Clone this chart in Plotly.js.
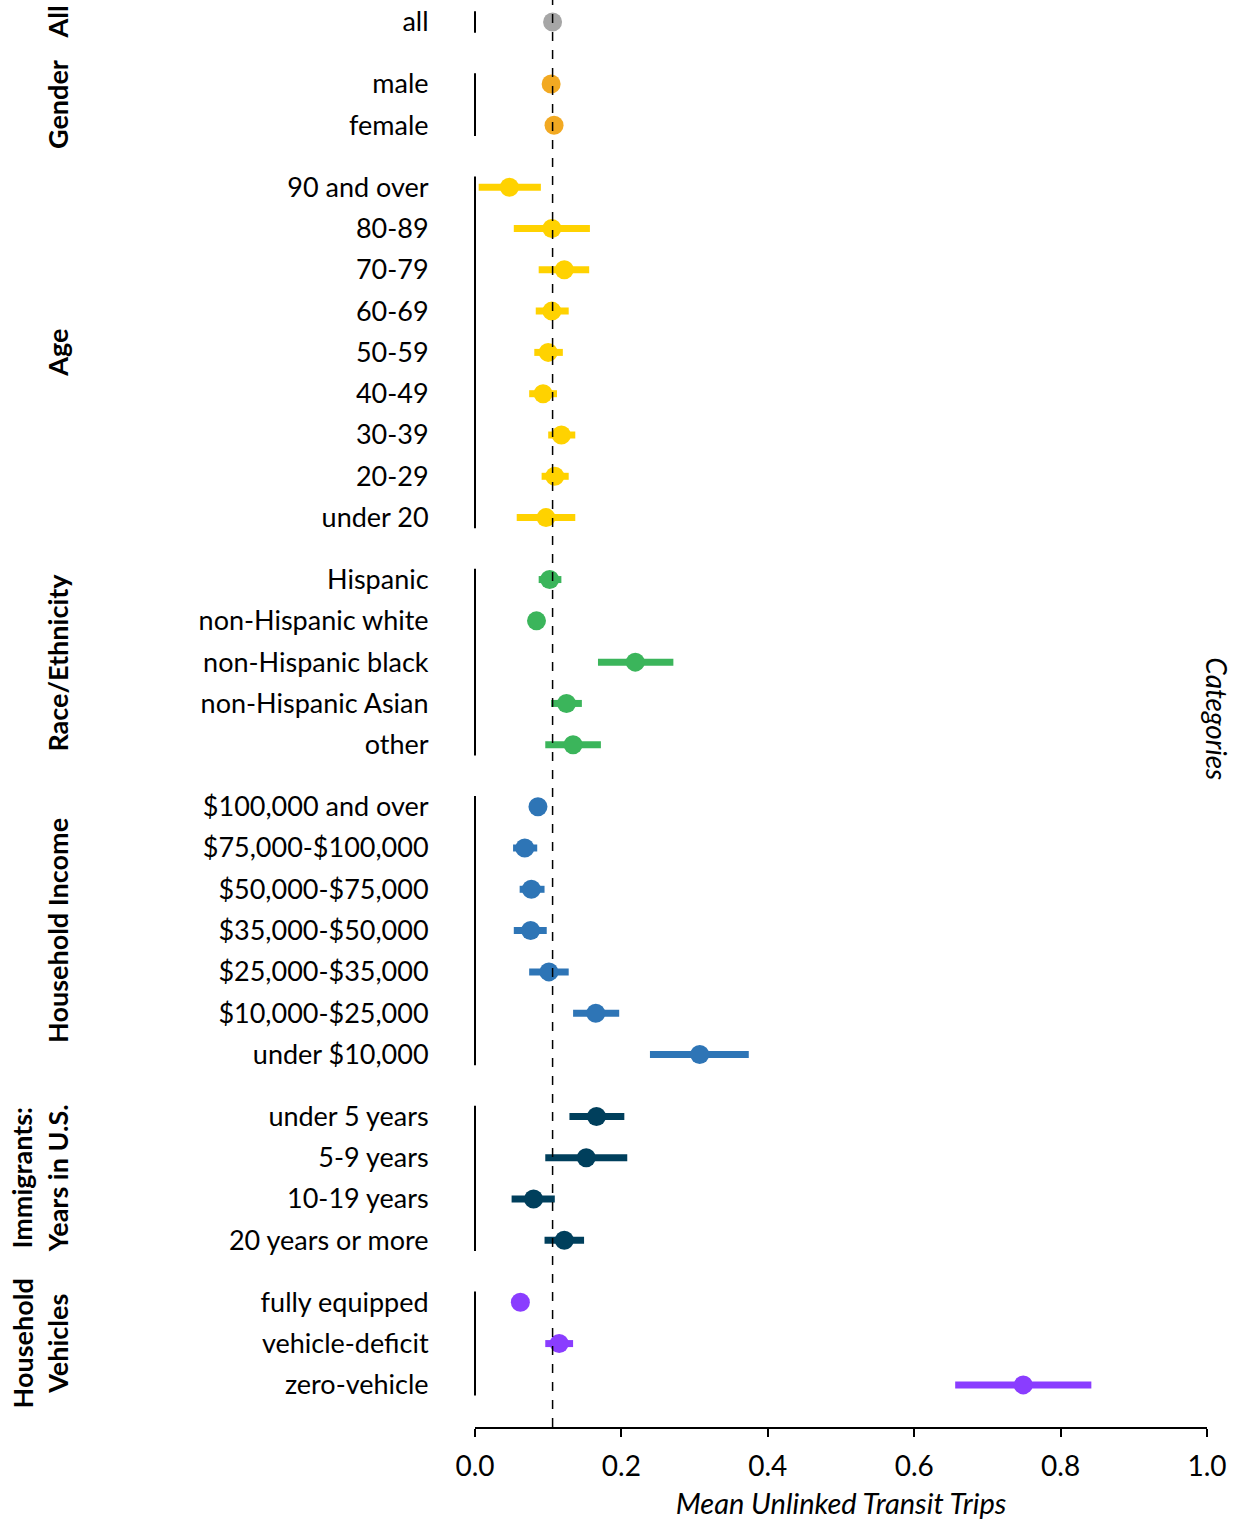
<!DOCTYPE html>
<html>
<head>
<meta charset="utf-8">
<script src="https://cdn.plot.ly/plotly-3.0.1.min.js"></script>
<style>
  html, body { margin: 0; padding: 0; background: #ffffff; }
  #chart { width: 1240px; height: 1520px; }
</style>
</head>
<body>
<div id="chart"></div>
<script>
// ---- Data ----
const groupNames = ["All", "Gender", "Age", "Race/Ethnicity", "Household Income", "Immigrants:<br>Years in U.S.", "Household<br>Vehicles"];
const groupColors = ["#a6a6a6", "#f2a922", "#ffd200", "#3bb55b", "#2e75b6", "#003f5c", "#8a3dff"];

const categories = [
  "all",
  "male", "female",
  "90 and over", "80-89", "70-79", "60-69", "50-59", "40-49", "30-39", "20-29", "under 20",
  "Hispanic", "non-Hispanic white", "non-Hispanic black", "non-Hispanic Asian", "other",
  "$100,000 and over", "$75,000-$100,000", "$50,000-$75,000", "$35,000-$50,000", "$25,000-$35,000", "$10,000-$25,000", "under $10,000",
  "under 5 years", "5-9 years", "10-19 years", "20 years or more",
  "fully equipped", "vehicle-deficit", "zero-vehicle"
];
const groupOf = [
  0,
  1, 1,
  2, 2, 2, 2, 2, 2, 2, 2, 2,
  3, 3, 3, 3, 3,
  4, 4, 4, 4, 4, 4, 4,
  5, 5, 5, 5,
  6, 6, 6
];
const means = [
  0.106,
  0.104, 0.108,
  0.047, 0.105, 0.122, 0.105, 0.100, 0.093, 0.118, 0.109, 0.097,
  0.102, 0.084, 0.219, 0.125, 0.134,
  0.086, 0.068, 0.077, 0.076, 0.101, 0.165, 0.307,
  0.166, 0.152, 0.080, 0.122,
  0.062, 0.115, 0.749
];
const lowers = [
  0.103,
  0.101, 0.105,
  0.005, 0.053, 0.087, 0.083, 0.081, 0.074, 0.100, 0.091, 0.057,
  0.087, 0.080, 0.168, 0.104, 0.096,
  0.082, 0.052, 0.061, 0.053, 0.074, 0.134, 0.239,
  0.129, 0.096, 0.050, 0.095,
  0.058, 0.096, 0.656
];
const uppers = [
  0.109,
  0.107, 0.111,
  0.090, 0.157, 0.156, 0.128, 0.120, 0.112, 0.137, 0.128, 0.137,
  0.118, 0.089, 0.271, 0.146, 0.172,
  0.090, 0.085, 0.095, 0.098, 0.128, 0.197, 0.374,
  0.204, 0.208, 0.109, 0.149,
  0.066, 0.134, 0.842
];
const xTicks = [0, 0.2, 0.4, 0.6, 0.8, 1.0];
const xTickText = ["0.0", "0.2", "0.4", "0.6", "0.8", "1.0"];

// ---- Row positions: 1 per row, extra 0.5 between groups ----
const yPos = [];
let cur = 0;
for (let i = 0; i < categories.length; i++) {
  if (i > 0) cur += (groupOf[i] !== groupOf[i - 1]) ? 1.5 : 1;
  yPos.push(cur);
}

const FONT = "Lato, 'Open Sans', sans-serif";
const FS = 27;

const traces = [];
const shapes = [];
const annotations = [];
groupNames.forEach((g, gi) => {
  const idx = [];
  groupOf.forEach((v, i) => { if (v === gi) idx.push(i); });
  const ys = idx.map(i => yPos[i]);
  traces.push({
    type: "scatter",
    mode: "markers",
    x: idx.map(i => means[i]),
    y: ys,
    marker: { color: groupColors[gi], size: 19, line: { width: 0 } },
    error_x: {
      type: "data", symmetric: false,
      array: idx.map(i => uppers[i] - means[i]),
      arrayminus: idx.map(i => means[i] - lowers[i]),
      color: groupColors[gi], thickness: 7, width: 0
    },
    hoverinfo: "skip",
    showlegend: false,
    cliponaxis: false
  });
  const y0 = Math.min(...ys), y1 = Math.max(...ys);
  shapes.push({
    type: "line", xref: "paper", yref: "y",
    x0: 0, x1: 0, y0: y0 - 0.26, y1: y1 + 0.26,
    line: { color: "#000000", width: 2 }
  });
  annotations.push({
    xref: "paper", yref: "y",
    x: (g.indexOf("<br>") >= 0) ? -0.5945 : -0.5705,
    y: (y0 + y1) / 2,
    xanchor: "center", yanchor: "middle",
    text: "<b>" + g + "</b>",
    textangle: -90,
    showarrow: false,
    align: "center",
    font: { family: FONT, size: FS, color: "#000000" }
  });
});

// dashed reference line at overall mean
shapes.push({
  type: "line", xref: "x", yref: "paper",
  x0: means[0], x1: means[0], y0: 0, y1: 1,
  line: { color: "#000000", width: 1.5, dash: "dash" }
});

annotations.push({
  xref: "paper", yref: "paper",
  x: 1.0125, y: 0.4965,
  xanchor: "center", yanchor: "middle",
  text: "<i>Categories</i>",
  textangle: 90,
  showarrow: false,
  font: { family: FONT, size: 28, color: "#000000" }
});

const yMaxRow = yPos[yPos.length - 1];

const layout = {
  width: 1240, height: 1520,
  margin: { l: 475, r: 33, t: 0, b: 93, pad: 0 },
  paper_bgcolor: "#ffffff",
  plot_bgcolor: "#ffffff",
  font: { family: FONT, size: FS, color: "#000000" },
  showlegend: false,
  xaxis: {
    range: [0, 1],
    tickvals: xTicks,
    ticktext: xTickText,
    ticks: "outside", ticklen: 8, tickwidth: 2, tickcolor: "#000000",
    ticklabelstandoff: 5,
    showline: true, linecolor: "#000000", linewidth: 2,
    showgrid: false, zeroline: false,
    tickfont: { family: FONT, size: 28, color: "#000000" },
    title: { text: "<i>Mean Unlinked Transit Trips</i>", font: { family: FONT, size: 29, color: "#000000" }, standoff: 16 }
  },
  yaxis: {
    range: [yMaxRow + 1.02, -0.533],
    tickvals: yPos,
    ticktext: categories,
    ticks: "outside", ticklen: 40, tickcolor: "rgba(0,0,0,0)",
    showline: false, showgrid: false, zeroline: false,
    tickfont: { family: FONT, size: FS, color: "#000000" }
  },
  shapes: shapes,
  annotations: annotations
};

Plotly.newPlot("chart", traces, layout, { staticPlot: true, displayModeBar: false });
</script>
</body>
</html>
